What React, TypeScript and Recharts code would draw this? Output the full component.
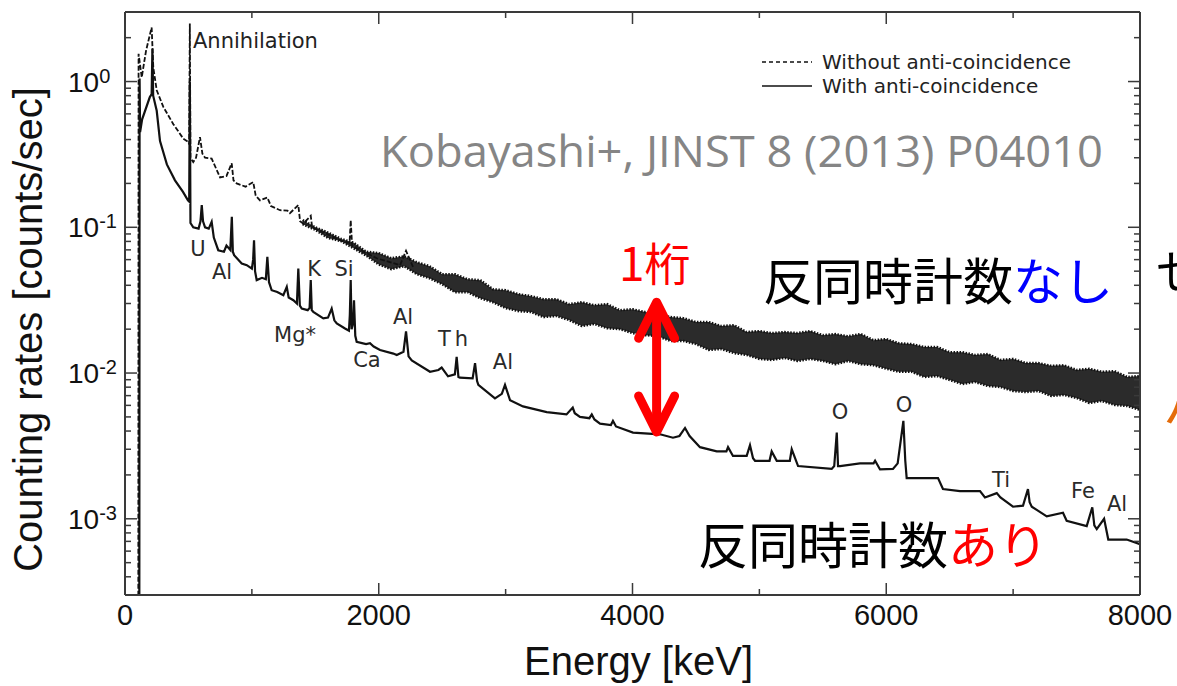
import React from "react";
import {
  ComposedChart,
  Line,
  Area,
  XAxis,
  YAxis,
  Legend,
  ReferenceDot,
  ReferenceLine,
} from "recharts";

// x axis (keV)
const xTicks = [0, 1000, 2000, 3000, 4000, 5000, 6000, 7000, 8000];
const xLabelTicks = [0, 2000, 4000, 6000, 8000];

// y axis (log, counts/sec)
const yMajor = [0.001, 0.01, 0.1, 1];
const yMajorExp = ["-3", "-2", "-1", "0"];
const yMinor = [
  0.0004, 0.0005, 0.0006, 0.0007, 0.0008, 0.0009,
  0.002, 0.003, 0.004, 0.005, 0.006, 0.007, 0.008, 0.009,
  0.02, 0.03, 0.04, 0.05, 0.06, 0.07, 0.08, 0.09,
  0.2, 0.3, 0.4, 0.5, 0.6, 0.7, 0.8, 0.9,
  2,
];
const yTicks = [...yMinor, ...yMajor].sort((a, b) => a - b);

// With anti-coincidence (solid)
const withE = [
  100, 113, 115, 119, 135, 195, 210, 216, 222, 250, 276, 330, 394, 457, 496, 506, 511, 516, 538, 580,
  595, 605, 615, 631, 660, 683, 700, 735, 780, 800, 830, 842, 850, 860, 920, 960, 1000, 1010, 1017, 1025,
  1038, 1080, 1110, 1122, 1135, 1156, 1200, 1248, 1275, 1290, 1327, 1355, 1366, 1378, 1393, 1440, 1455, 1464, 1472, 1484,
  1563, 1600, 1629, 1650, 1669, 1734, 1765, 1772, 1779, 1786, 1798, 1805, 1815, 1826, 1900, 1931, 1960, 2010, 2115, 2142,
  2195, 2215, 2235, 2260, 2404, 2470, 2496, 2546, 2600, 2614, 2628, 2640, 2740, 2759, 2775, 2785, 2916, 2970, 2995, 3035,
  3137, 3324, 3480, 3529, 3545, 3586, 3660, 3679, 3700, 3744, 3830, 3846, 3870, 4004, 4217, 4319, 4370, 4414, 4450, 4532,
  4664, 4740, 4753, 4792, 4900, 4926, 4950, 4966, 5080, 5097, 5137, 5240, 5255, 5305, 5570, 5590, 5610, 5620, 5636, 5793,
  5900, 5912, 5951, 6053, 6090, 6135, 6150, 6161, 6266, 6408, 6447, 6581, 6739, 6778, 6871, 6900, 6999, 7078, 7117, 7130,
  7147, 7186, 7265, 7393, 7422, 7580, 7624, 7640, 7659, 7717, 7750, 7895, 8000,
];
const withRate = [
  0.0003, 0.0003, 1.05, 0.45, 0.55, 0.78, 0.82, 1.68, 0.8, 0.63, 0.39, 0.27, 0.21, 0.175, 0.153, 0.15, 1.0, 0.107, 0.1, 0.098,
  0.11, 0.142, 0.11, 0.1, 0.098, 0.109, 0.085, 0.0696, 0.068, 0.075, 0.07, 0.118, 0.068, 0.0643, 0.0564, 0.055, 0.052, 0.06, 0.0815, 0.05,
  0.0434, 0.045, 0.044, 0.0626, 0.042, 0.037, 0.036, 0.0342, 0.039, 0.033, 0.0316, 0.03, 0.0521, 0.029, 0.0277, 0.027, 0.028, 0.0434, 0.027, 0.0263,
  0.0237, 0.024, 0.0277, 0.023, 0.0219, 0.0202, 0.0195, 0.025, 0.0434, 0.02, 0.022, 0.0316, 0.018, 0.0164, 0.0158, 0.016, 0.0152, 0.0144, 0.0136, 0.0133,
  0.014, 0.0193, 0.013, 0.0122, 0.0102, 0.0105, 0.0109, 0.0095, 0.0098, 0.0129, 0.0094, 0.0093, 0.0092, 0.0117, 0.0088, 0.0083, 0.0067, 0.0072, 0.0083, 0.0065,
  0.0059, 0.0054, 0.0052, 0.0058, 0.0053, 0.005, 0.0049, 0.0052, 0.0048, 0.0045, 0.0044, 0.0047, 0.0043, 0.0039, 0.0038, 0.0036, 0.0037, 0.0042, 0.0037, 0.0031,
  0.0029, 0.0029, 0.0031, 0.0027, 0.0027, 0.0032, 0.0026, 0.0025, 0.0025, 0.0029, 0.0025, 0.0025, 0.003, 0.0023, 0.0022, 0.0023, 0.0039, 0.0023, 0.0023, 0.0024,
  0.0024, 0.0025, 0.00218, 0.0022, 0.0024, 0.0047, 0.0025, 0.0019, 0.0019, 0.0019, 0.0016, 0.00155, 0.00155, 0.0014, 0.0015, 0.0014, 0.00121, 0.00123, 0.0016, 0.0013,
  0.00121, 0.00115, 0.00104, 0.0011, 0.00097, 0.00089, 0.0012, 0.0009, 0.00085, 0.001, 0.00072, 0.00072, 0.00067,
];

// Without anti-coincidence (dashed, low energy part)
const withoutE = [
  100, 105, 107, 132, 166, 210, 223, 250, 302, 381, 460, 499, 506, 511, 516, 538, 560, 591, 610, 631,
  683, 749, 800, 841, 855, 880, 950, 1011, 1030, 1064, 1122, 1150, 1222, 1280, 1300, 1366, 1380, 1405, 1464, 1475,
  1590, 1700, 1770, 1779, 1790, 1826, 1984, 2168, 2215, 2270,
];
const withoutRate = [
  0.0003, 0.0003, 1.55, 1.07, 1.63, 2.35, 1.25, 0.87, 0.67, 0.51, 0.405, 0.385, 0.37, 2.5, 0.3, 0.28, 0.3, 0.416, 0.32, 0.3,
  0.296, 0.22, 0.225, 0.275, 0.21, 0.2, 0.19, 0.204, 0.165, 0.153, 0.16, 0.14, 0.131, 0.13, 0.125, 0.142, 0.11, 0.106, 0.12, 0.1,
  0.09, 0.081, 0.078, 0.112, 0.075, 0.072, 0.0613, 0.055, 0.069, 0.0535,
];

// Without anti-coincidence: spread of the noisy band
const bandE = [
  1400, 1500, 1600, 1700, 1800, 1900, 2000, 2100, 2200, 2300, 2400, 2500, 2600, 2700, 2800, 2900, 3000, 3100,
  3200, 3300, 3400, 3500, 3600, 3700, 3800, 3900, 4000, 4100, 4200, 4300, 4400, 4500, 4600, 4700, 4800, 4900, 5000, 5100,
  5200, 5300, 5400, 5500, 5600, 5700, 5800, 5900, 6000, 6100, 6200, 6300, 6400, 6500, 6600, 6700, 6800, 6900, 7000, 7100,
  7200, 7300, 7400, 7500, 7600, 7700, 7800, 7900, 8000,
];
const bandHigh = [
  0.112, 0.1, 0.092, 0.0835, 0.0785, 0.068, 0.0665, 0.0613, 0.0633, 0.0576, 0.0541, 0.0477, 0.0477, 0.044, 0.0434, 0.0376, 0.037, 0.0348,
  0.0337, 0.0321, 0.0321, 0.0297, 0.0306, 0.0292, 0.0297, 0.027, 0.0274, 0.0262, 0.0254, 0.0242, 0.0238, 0.0224, 0.0224, 0.021, 0.0213, 0.0191, 0.0194, 0.0188,
  0.0191, 0.0188, 0.0194, 0.0182, 0.0185, 0.0179, 0.0185, 0.0168, 0.0171, 0.016, 0.0158, 0.0151, 0.0151, 0.0139, 0.0139, 0.0133, 0.0135, 0.0123, 0.0125, 0.0117,
  0.0117, 0.0112, 0.0113, 0.0105, 0.0107, 0.0102, 0.0103, 0.00939, 0.00954,
];
const bandLow = [
  0.105, 0.096, 0.0845, 0.0805, 0.072, 0.064, 0.0555, 0.0516, 0.0541, 0.0477, 0.0447, 0.0407, 0.0359, 0.0359, 0.0326, 0.0306, 0.0279, 0.0266,
  0.0262, 0.0242, 0.0246, 0.0231, 0.021, 0.0217, 0.0203, 0.02, 0.0188, 0.0182, 0.0179, 0.0166, 0.0166, 0.0158, 0.0144, 0.0146, 0.0137, 0.0133, 0.0125, 0.0123,
  0.0127, 0.0121, 0.0125, 0.0121, 0.0115, 0.0121, 0.0115, 0.0113, 0.0107, 0.0102, 0.0102, 0.00939, 0.00954, 0.00896, 0.00841, 0.00868, 0.00815, 0.00802, 0.00753, 0.00741,
  0.00753, 0.00696, 0.00707, 0.00674, 0.00623, 0.00643, 0.00604, 0.00594, 0.00558,
];

// peak labels
const peakNames = ["U", "Al", "K", "Si", "Mg*", "Ca", "Al", "Th", "Al", "O", "O", "Ti", "Fe", "Al"];
const peakE = [575, 765, 1490, 1726, 1340, 1907, 2191, 2601, 2979, 5636, 6140, 6905, 7551, 7819];
const peakRate = [0.0707, 0.0492, 0.0516, 0.0516, 0.0182, 0.0123, 0.0242, 0.0171, 0.0119, 0.0054, 0.00604, 0.00185, 0.00156, 0.00127];

const withData = withE.map((e, i) => ({ e, rate: withRate[i] }));
const withoutData = withoutE.map((e, i) => ({ e, rate: withoutRate[i] }));
const bandData = bandE.map((e, i) => ({ e, band: [bandLow[i], bandHigh[i]] }));

const SANS = "Liberation Sans, Arial, sans-serif";
const LABEL_FONT = "DejaVu Sans, sans-serif";
const AXIS = "#3a3a3a";
const INK = "#111";

function LeftTick({ x, y, payload }: any) {
  const idx = yMajor.indexOf(payload.value);
  const major = idx >= 0;
  return (
    <g>
      <line x1={x} y1={y} x2={x + (major ? 12 : 6)} y2={y} stroke={AXIS} strokeWidth={1.5} />
      {major && (
        <text x={x - 57} y={y + 10} fontSize={28} fontFamily={SANS} fill={INK}>
          10
          <tspan dy={-9} fontSize={20}>
            {yMajorExp[idx]}
          </tspan>
        </text>
      )}
    </g>
  );
}

function RightTick({ x, y, payload }: any) {
  const major = yMajor.includes(payload.value);
  return <line x1={x} y1={y} x2={x - (major ? 12 : 6)} y2={y} stroke={AXIS} strokeWidth={1.5} />;
}

function BottomTick({ x, y, payload }: any) {
  const major = xLabelTicks.includes(payload.value);
  return (
    <g>
      <line x1={x} y1={y} x2={x} y2={y - (major ? 12 : 6)} stroke={AXIS} strokeWidth={1.5} />
      {major && (
        <text x={x} y={y + 30} textAnchor="middle" fontSize={29} fontFamily={SANS} fill={INK}>
          {payload.value}
        </text>
      )}
    </g>
  );
}

function TopTick({ x, y, payload }: any) {
  const major = xLabelTicks.includes(payload.value);
  return <line x1={x} y1={y} x2={x} y2={y + (major ? 12 : 6)} stroke={AXIS} strokeWidth={1.5} />;
}

function XTitle({ viewBox }: any) {
  return (
    <text x={viewBox.x + viewBox.width / 2 + 6} y={viewBox.y + 80} textAnchor="middle" fontSize={40} fontFamily={SANS} fill={INK}>
      Energy [keV]
    </text>
  );
}

function YTitle({ viewBox }: any) {
  const cx = 42;
  const cy = viewBox.y + viewBox.height / 2 + 26;
  return (
    <text x={cx} y={cy} transform={`rotate(-90, ${cx}, ${cy})`} textAnchor="middle" fontSize={40} fontFamily={SANS} fill={INK}>
      Counting rates [counts/sec]
    </text>
  );
}

function LegendBox({ payload }: any) {
  const items = (payload || [])
    .filter((p: any) => p.type !== "none")
    .slice()
    .sort((a: any, b: any) => (String(a.value).startsWith("Without") ? -1 : 1) - (String(b.value).startsWith("Without") ? -1 : 1));
  return (
    <div style={{ fontFamily: LABEL_FONT, fontSize: 20, color: "#222", lineHeight: "24px" }}>
      {items.map((p: any) => {
        const dashed = String(p.value).startsWith("Without");
        return (
          <div key={p.value} style={{ display: "flex", alignItems: "center", height: 24 }}>
            <svg width={62} height={24}>
              <line x1={2} y1={12} x2={52} y2={12} stroke={INK} strokeWidth={1.4} strokeDasharray={dashed ? "4 3" : undefined} />
            </svg>
            <span>{p.value}</span>
          </div>
        );
      })}
    </div>
  );
}

function ArrowShape({ x1, y1, x2, y2 }: any) {
  const top = Math.min(y1, y2);
  const bottom = Math.max(y1, y2);
  return (
    <g stroke="#ff0000" strokeWidth={9} strokeLinecap="round" strokeLinejoin="round" fill="none">
      <line x1={x1} y1={top + 4} x2={x2} y2={bottom - 4} />
      <polyline points={`${x1 - 18},${top + 38} ${x1},${top + 2} ${x1 + 18},${top + 38}`} />
      <polyline points={`${x1 - 18},${bottom - 38} ${x1},${bottom - 2} ${x1 + 18},${bottom - 38}`} />
    </g>
  );
}

export default function App() {
  return (
    <div style={{ position: "fixed", left: 0, top: 0, width: 1177, height: 686, overflow: "hidden", background: "#fff" }}>
      <ComposedChart width={1177} height={686} margin={{ top: 0, right: 0, bottom: 0, left: 0 }}>
        <XAxis
          xAxisId={0}
          dataKey="e"
          type="number"
          domain={[0, 8000]}
          ticks={xTicks}
          interval={0}
          height={91}
          tickSize={0}
          tickMargin={0}
          tickLine={false}
          tick={<BottomTick />}
          axisLine={{ stroke: AXIS, strokeWidth: 2 }}
          allowDataOverflow
          label={XTitle}
        />
        <XAxis
          xAxisId="top"
          orientation="top"
          dataKey="e"
          type="number"
          domain={[0, 8000]}
          ticks={xTicks}
          interval={0}
          height={12}
          tickSize={0}
          tickMargin={0}
          tickLine={false}
          tick={<TopTick />}
          axisLine={{ stroke: AXIS, strokeWidth: 2 }}
          allowDataOverflow
        />
        <YAxis
          yAxisId={0}
          type="number"
          scale="log"
          domain={[0.0003, 3]}
          ticks={yTicks}
          interval={0}
          width={125}
          tickSize={0}
          tickMargin={0}
          tickLine={false}
          tick={<LeftTick />}
          axisLine={{ stroke: AXIS, strokeWidth: 2 }}
          allowDataOverflow
          label={YTitle}
        />
        <YAxis
          yAxisId="right"
          orientation="right"
          type="number"
          scale="log"
          domain={[0.0003, 3]}
          ticks={yTicks}
          interval={0}
          width={37}
          tickSize={0}
          tickMargin={0}
          tickLine={false}
          tick={<RightTick />}
          axisLine={{ stroke: AXIS, strokeWidth: 2 }}
          allowDataOverflow
        />

        <Area
          data={bandData}
          dataKey="band"
          type="linear"
          stroke="#111"
          strokeWidth={2.5}
          strokeDasharray="1.5 1.5"
          fill="#141414"
          fillOpacity={0.9}
          legendType="none"
          isAnimationActive={false}
          dot={false}
          activeDot={false}
        />
        <Line
          data={withoutData}
          dataKey="rate"
          name="Without anti-coincidence"
          type="linear"
          stroke={INK}
          strokeWidth={1.8}
          strokeDasharray="5 2"
          dot={false}
          activeDot={false}
          isAnimationActive={false}
        />
        <Line
          data={withData}
          dataKey="rate"
          name="With anti-coincidence"
          type="linear"
          stroke={INK}
          strokeWidth={2.2}
          dot={false}
          activeDot={false}
          isAnimationActive={false}
        />

        <ReferenceDot
          x={536}
          y={1.91}
          r={0}
          shape={(p: any) => (
            <text x={p.cx} y={p.cy} dominantBaseline="central" fontSize={21} fontFamily={LABEL_FONT} fill="#222">
              Annihilation
            </text>
          )}
        />
        {peakNames.map((name, i) => (
          <ReferenceDot
            key={i}
            x={peakE[i]}
            y={peakRate[i]}
            r={0}
            shape={(p: any) => (
              <text
                x={p.cx}
                y={p.cy}
                textAnchor="middle"
                dominantBaseline="central"
                fontSize={21}
                letterSpacing={name === "Th" ? 4 : 0}
                fontFamily={LABEL_FONT}
                fill="#2a2a2a"
              >
                {name}
              </text>
            )}
          />
        ))}
        <ReferenceLine
          segment={[
            { x: 4190, y: 0.00382 },
            { x: 4190, y: 0.0316 },
          ]}
          shape={<ArrowShape />}
        />

        <Legend
          layout="horizontal"
          verticalAlign="middle"
          align="center"
          content={<LegendBox />}
          wrapperStyle={{ top: 50, left: 760, width: 360 }}
        />
      </ComposedChart>

      <svg width={1177} height={686} style={{ position: "absolute", left: 0, top: 0, pointerEvents: "none" }}>
        <text x={380} y={167} fontSize={44} fontFamily="Open Sans, sans-serif" fill="#858585" textLength={723} lengthAdjust="spacingAndGlyphs">
          Kobayashi+, JINST 8 (2013) P04010
        </text>
        <text x={619} y={281} fontSize={46} fontFamily="Noto Sans CJK JP" fill="#ff0000">
          1桁
        </text>
        <text x={763} y={300} fontSize={50} fontFamily="Noto Sans CJK JP" fill="#000">
          反同時計数<tspan fill="#0000ff">なし</tspan>
        </text>
        <text x={698} y={564} fontSize={50} fontFamily="Noto Sans CJK JP" fill="#000">
          反同時計数<tspan fill="#ff0000">あり</tspan>
        </text>
        <text x={1156} y={290} fontSize={50} fontFamily="Noto Sans CJK JP" fill="#000">
          せ
        </text>
        <text x={1163} y={424} fontSize={50} fontFamily="Noto Sans CJK JP" fill="#e46c0a">
          ハ
        </text>
      </svg>
    </div>
  );
}
